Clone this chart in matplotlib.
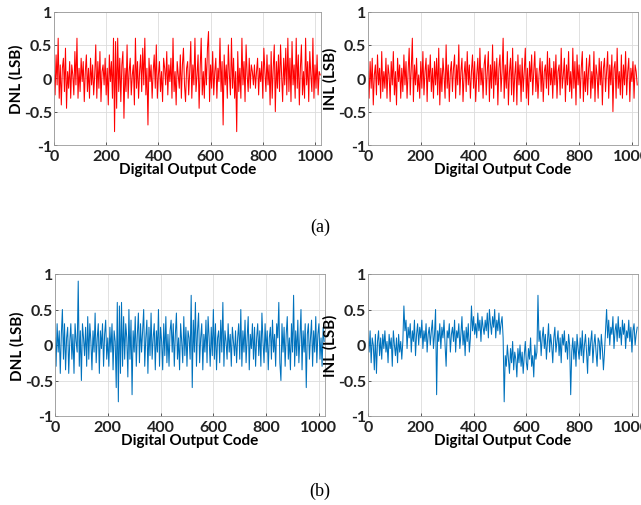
import numpy as np
import matplotlib.pyplot as plt

# hand-read samples, one value every 4 codes (16 per row = 64 codes)
codes = np.arange(0, 1024, 4)

dnl_a = [
    [0.05, -0.25, 0.35, -0.1, 0.6, -0.3, 0.2, -0.4, 0.15, 0.3, -0.2, 0.45, -0.45, 0.1, -0.15, 0.25],
    [-0.3, 0.2, 0.05, -0.25, 0.4, -0.1, 0.6, -0.3, 0.15, -0.2, 0.3, -0.05, 0.25, -0.35, 0.1, 0.35],
    [-0.2, 0.15, -0.3, 0.3, -0.1, 0.2, -0.25, 0.05, 0.5, -0.3, 0.25, -0.15, 0.4, -0.35, 0.1, 0.2],
    [-0.1, 0.3, -0.25, 0.15, -0.4, 0.35, -0.05, 0.25, -0.3, 0.6, -0.8, 0.55, -0.45, 0.6, -0.2, 0.3],
    [-0.35, 0.2, 0.4, -0.6, 0.15, -0.2, 0.5, -0.3, 0.1, 0.3, -0.25, 0.05, 0.2, -0.4, 0.6, -0.15],
    [0.25, -0.3, 0.1, 0.35, -0.2, 0.45, -0.1, 0.6, -0.25, 0.15, -0.7, 0.3, -0.05, 0.2, -0.3, 0.1],
    [0.35, -0.15, 0.5, -0.3, 0.05, 0.25, -0.2, 0.1, -0.35, 0.3, 0.15, -0.1, 0.4, -0.25, 0.2, -0.05],
    [0.3, -0.3, 0.6, -0.2, 0.1, -0.4, 0.25, 0.05, -0.15, 0.35, -0.3, 0.2, 0.45, -0.1, -0.35, 0.15],
    [0.25, -0.25, 0.1, 0.55, -0.3, 0.2, -0.1, 0.6, -0.2, 0.05, 0.35, -0.45, 0.15, 0.6, -0.25, 0.1],
    [-0.3, 0.3, -0.1, 0.45, 0.7, -0.35, 0.2, -0.15, 0.4, -0.25, 0.1, 0.3, -0.3, 0.15, -0.05, 0.6],
    [-0.2, 0.25, -0.7, 0.35, -0.1, 0.2, -0.3, 0.5, 0.05, -0.25, 0.6, -0.15, 0.3, -0.3, 0.1, -0.8],
    [0.4, -0.2, 0.15, -0.3, 0.6, -0.1, 0.25, -0.35, 0.5, 0.05, -0.2, 0.3, -0.15, 0.2, 0.1, -0.1],
    [0.2, -0.15, 0.1, 0.3, -0.25, 0.15, -0.05, 0.25, -0.3, 0.45, 0.1, -0.2, 0.35, -0.1, 0.2, -0.4],
    [0.4, -0.3, 0.15, 0.5, -0.5, 0.25, -0.15, 0.35, -0.2, 0.5, 0.05, -0.35, 0.3, -0.1, 0.45, -0.25],
    [0.6, -0.2, 0.3, -0.35, 0.55, -0.1, 0.2, -0.3, 0.6, -0.15, 0.35, -0.4, 0.15, 0.5, -0.25, 0.1],
    [-0.3, 0.6, -0.1, 0.25, -0.35, 0.4, 0.05, -0.2, 0.6, -0.3, 0.2, -0.15, 0.35, -0.25, 0.1, 0.05],
]

inl_a = [
    [0.1, -0.3, 0.25, -0.15, 0.3, -0.4, 0.05, 0.2, -0.25, 0.35, -0.1, 0.15, -0.3, 0.4, -0.2, 0.1],
    [-0.15, 0.3, -0.3, 0.2, 0.05, -0.35, 0.25, -0.1, 0.4, -0.25, 0.1, -0.4, 0.3, -0.05, 0.2, -0.3],
    [0.15, -0.2, 0.35, -0.1, 0.25, -0.3, 0.1, 0.45, -0.25, 0.15, 0.6, -0.35, 0.2, -0.1, 0.3, -0.2],
    [0.05, -0.3, 0.25, -0.15, 0.4, -0.25, 0.1, 0.3, -0.35, 0.2, -0.05, 0.35, -0.2, 0.15, -0.3, 0.25],
    [-0.1, 0.3, -0.25, 0.45, -0.4, 0.15, -0.2, 0.3, 0.05, -0.3, 0.5, -0.15, 0.2, -0.35, 0.1, 0.25],
    [-0.2, 0.15, 0.35, -0.3, 0.2, -0.1, 0.5, -0.25, 0.1, 0.3, -0.35, 0.05, 0.25, -0.2, 0.4, -0.1],
    [0.2, -0.3, 0.1, 0.35, -0.15, 0.25, -0.35, 0.05, 0.3, -0.2, 0.45, -0.1, 0.15, -0.3, 0.2, 0.35],
    [-0.25, 0.1, 0.4, -0.35, 0.2, -0.15, 0.5, -0.3, 0.25, -0.1, 0.3, -0.4, 0.15, 0.35, -0.2, 0.1],
    [0.6, -0.3, 0.2, -0.15, 0.4, -0.4, 0.1, 0.3, -0.25, 0.45, -0.35, 0.05, 0.25, -0.4, 0.35, -0.1],
    [0.2, -0.35, 0.3, -0.2, 0.1, 0.45, -0.3, 0.15, -0.4, 0.25, -0.05, 0.35, -0.25, 0.1, 0.4, -0.2],
    [0.15, -0.3, 0.05, 0.3, -0.2, 0.25, -0.35, 0.1, 0.2, -0.15, 0.4, -0.25, 0.3, -0.1, 0.15, -0.3],
    [0.25, -0.1, 0.35, -0.3, 0.1, 0.2, -0.25, 0.45, -0.15, 0.05, 0.3, -0.35, 0.2, -0.1, 0.4, -0.2],
    [0.1, -0.3, 0.45, -0.15, 0.25, -0.4, 0.35, -0.1, 0.2, -0.3, 0.15, 0.4, -0.35, 0.1, -0.2, 0.3],
    [-0.25, 0.15, 0.35, -0.3, 0.1, -0.15, 0.4, -0.35, 0.2, 0.05, -0.3, 0.3, -0.1, 0.25, -0.4, 0.15],
    [0.3, -0.2, 0.1, 0.4, -0.3, 0.2, -0.1, 0.35, -0.5, 0.15, 0.25, -0.3, 0.45, -0.15, 0.1, -0.25],
    [0.35, -0.3, 0.2, -0.1, 0.4, -0.25, 0.1, 0.3, -0.35, 0.15, -0.05, 0.25, -0.3, 0.2, 0.1, -0.1],
]

dnl_b = [
    [0.1, -0.3, 0.3, -0.1, 0.2, -0.4, 0.15, 0.5, -0.2, 0.3, -0.35, 0.1, 0.25, -0.4, 0.05, 0.3],
    [-0.2, 0.15, -0.4, 0.3, 0.05, -0.1, 0.9, -0.3, 0.2, -0.5, 0.3, 0.1, -0.15, 0.25, -0.3, 0.4],
    [-0.2, 0.3, 0.05, -0.35, 0.2, -0.1, 0.45, -0.25, 0.1, 0.3, -0.4, 0.2, -0.05, 0.3, -0.3, 0.15],
    [0.35, -0.2, 0.1, -0.3, 0.25, -0.1, 0.3, -0.35, 0.2, 0.05, -0.6, 0.6, -0.8, 0.55, -0.4, 0.6],
    [-0.3, 0.4, -0.2, 0.3, 0.1, -0.45, 0.5, -0.2, 0.35, -0.7, 0.2, -0.1, 0.4, -0.3, 0.15, 0.45],
    [-0.25, 0.3, -0.1, 0.2, 0.5, -0.3, 0.1, 0.35, -0.4, 0.25, -0.15, 0.45, -0.2, 0.1, 0.3, -0.35],
    [0.2, -0.1, 0.5, -0.3, 0.25, 0.05, -0.35, 0.3, -0.15, 0.4, -0.25, 0.15, -0.3, 0.2, 0.35, -0.1],
    [0.3, -0.3, 0.15, 0.45, -0.2, 0.1, -0.35, 0.3, 0.05, -0.25, 0.4, -0.15, 0.25, -0.3, 0.2, 0.1],
    [-0.2, 0.7, -0.6, 0.35, -0.1, 0.6, -0.3, 0.2, 0.45, -0.25, 0.1, 0.3, -0.35, 0.15, -0.1, 0.35],
    [-0.25, 0.4, 0.1, -0.3, 0.25, -0.15, 0.5, -0.2, 0.3, -0.35, 0.1, 0.2, -0.25, 0.35, -0.1, 0.6],
    [-0.3, 0.2, 0.05, -0.2, 0.3, -0.1, 0.15, -0.3, 0.25, 0.05, -0.15, 0.2, -0.25, 0.1, 0.3, -0.2],
    [0.5, -0.3, 0.2, -0.1, 0.35, -0.25, 0.1, 0.4, -0.35, 0.15, -0.05, 0.3, -0.2, 0.25, -0.3, 0.1],
    [0.3, -0.15, 0.2, -0.3, 0.45, 0.05, -0.25, 0.3, -0.1, 0.2, -0.35, 0.1, 0.25, -0.2, 0.35, -0.1],
    [0.15, -0.3, 0.3, 0.1, 0.6, -0.25, -0.5, 0.3, -0.1, 0.25, -0.3, 0.15, 0.4, -0.2, 0.1, -0.35],
    [0.3, -0.1, 0.7, -0.3, 0.2, -0.15, 0.35, -0.25, 0.1, 0.5, -0.35, 0.2, -0.1, 0.3, -0.6, 0.15],
    [0.3, -0.2, 0.1, 0.35, -0.3, 0.2, -0.1, 0.4, -0.25, 0.15, 0.3, -0.2, 0.1, -0.3, 0.25, 0.05],
]

inl_b = [
    [0.05, -0.1, 0.2, -0.25, 0.1, 0.0, -0.35, 0.15, -0.4, 0.05, 0.2, -0.15, 0.1, -0.2, 0.15, -0.05],
    [0.2, -0.1, 0.05, -0.25, 0.15, -0.05, 0.1, -0.3, 0.2, 0.0, -0.15, 0.1, -0.25, 0.15, -0.1, 0.05],
    [-0.2, 0.05, 0.55, 0.2, 0.35, -0.05, 0.25, 0.1, 0.3, -0.1, 0.2, 0.05, 0.35, -0.15, 0.15, 0.3],
    [0.0, 0.25, 0.1, 0.35, -0.05, 0.2, 0.05, 0.3, -0.1, 0.15, 0.25, 0.0, 0.2, 0.35, -0.05, 0.15],
    [0.5, -0.7, 0.2, 0.05, 0.3, -0.05, 0.25, 0.1, 0.35, 0.0, -0.3, 0.2, 0.1, 0.3, -0.1, 0.15],
    [0.25, 0.05, 0.35, -0.1, 0.2, 0.1, 0.3, -0.05, 0.15, 0.4, 0.0, 0.2, -0.15, 0.25, 0.05, 0.3],
    [-0.1, 0.1, 0.55, 0.2, 0.4, 0.15, 0.3, 0.1, 0.45, 0.2, 0.35, 0.05, 0.4, 0.25, 0.15, 0.35],
    [0.2, 0.45, 0.1, 0.5, 0.3, 0.15, 0.4, 0.25, 0.5, 0.1, 0.35, 0.2, 0.45, 0.15, 0.3, 0.4],
    [0.1, -0.8, -0.15, -0.3, 0.0, -0.2, -0.4, -0.05, -0.25, 0.05, -0.35, -0.1, -0.2, -0.45, -0.05, -0.25],
    [0.0, -0.3, -0.1, -0.4, -0.15, 0.05, -0.25, -0.35, -0.05, -0.2, 0.1, -0.3, -0.15, -0.45, 0.0, -0.2],
    [-0.1, 0.7, 0.05, 0.2, -0.15, 0.1, 0.25, -0.05, 0.15, -0.2, 0.05, 0.3, -0.1, 0.15, 0.0, -0.25],
    [0.1, 0.25, -0.1, 0.05, 0.2, -0.15, 0.1, -0.25, 0.15, 0.0, 0.2, -0.1, 0.05, -0.2, 0.15, 0.0],
    [-0.7, -0.1, 0.1, -0.2, 0.05, -0.3, 0.15, -0.05, -0.2, 0.1, -0.15, 0.2, -0.25, 0.0, 0.15, -0.1],
    [-0.4, 0.1, -0.15, 0.05, 0.2, -0.25, 0.0, 0.15, -0.1, -0.3, 0.1, 0.05, -0.2, 0.15, -0.05, -0.35],
    [-0.1, 0.2, 0.5, 0.1, 0.35, 0.0, 0.25, 0.15, 0.4, -0.05, 0.2, 0.3, 0.05, 0.4, 0.1, 0.25],
    [0.0, 0.35, 0.15, 0.3, -0.05, 0.2, 0.1, 0.35, 0.05, 0.25, -0.1, 0.2, 0.3, 0.0, 0.15, 0.25],
]

xticks = [0, 200, 400, 600, 800, 1000]
yticks = [-1, -0.5, 0, 0.5, 1]
ytick_labels = ['-1', '-0.5', '0', '0.5', '1']

RED = '#ff0000'
BLUE = '#0072bd'

plt.rcParams['font.family'] = ['Lato', 'DejaVu Sans']
plt.rcParams['font.weight'] = 'bold'

W, H = 641, 506
fig = plt.figure(figsize=(W / 100, H / 100), dpi=100)


def panel(left, right, top, bottom, y, color, ylabel):
    ax = fig.add_axes([left / W, (H - bottom) / H, (right - left) / W, (bottom - top) / H])
    ax.plot(codes, np.array(y).ravel(), color=color, lw=0.75)
    ax.set_xlim(0, 1023)
    ax.set_ylim(-1, 1)
    ax.set_xticks(xticks)
    ax.set_yticks(yticks)
    ax.set_yticklabels(ytick_labels)
    ax.grid(True, color='#dcdcdc', lw=0.6)
    ax.set_axisbelow(True)
    ax.tick_params(direction='in', length=2, width=0.5, colors='#222222',
                   labelsize=11.5, pad=1.5)
    ax.tick_params(axis='x', pad=3)
    for lab in ax.get_xticklabels() + ax.get_yticklabels():
        lab.set_fontweight('bold')
    for s in ax.spines.values():
        s.set_color('#999999')
        s.set_linewidth(0.6)
    ax.set_xlabel('Digital Output Code', fontsize=11, fontweight='bold', labelpad=-1)
    ax.set_ylabel(ylabel, fontsize=11, fontweight='bold', labelpad=0)
    return ax


panel(54, 321, 12.5, 146, dnl_a, RED, 'DNL (LSB)')
panel(368, 638, 12.5, 146, inl_a, RED, 'INL (LSB)')
panel(55, 325, 275, 417, dnl_b, BLUE, 'DNL (LSB)')
panel(368, 638, 275, 417, inl_b, BLUE, 'INL (LSB)')

fig.text(320 / W, 1 - 227 / H, '(a)', family='Liberation Serif', fontweight='normal',
         fontsize=13, ha='center', va='center')
fig.text(320 / W, 1 - 491 / H, '(b)', family='Liberation Serif', fontweight='normal',
         fontsize=13, ha='center', va='center')

fig.savefig('out.png', dpi=100)
